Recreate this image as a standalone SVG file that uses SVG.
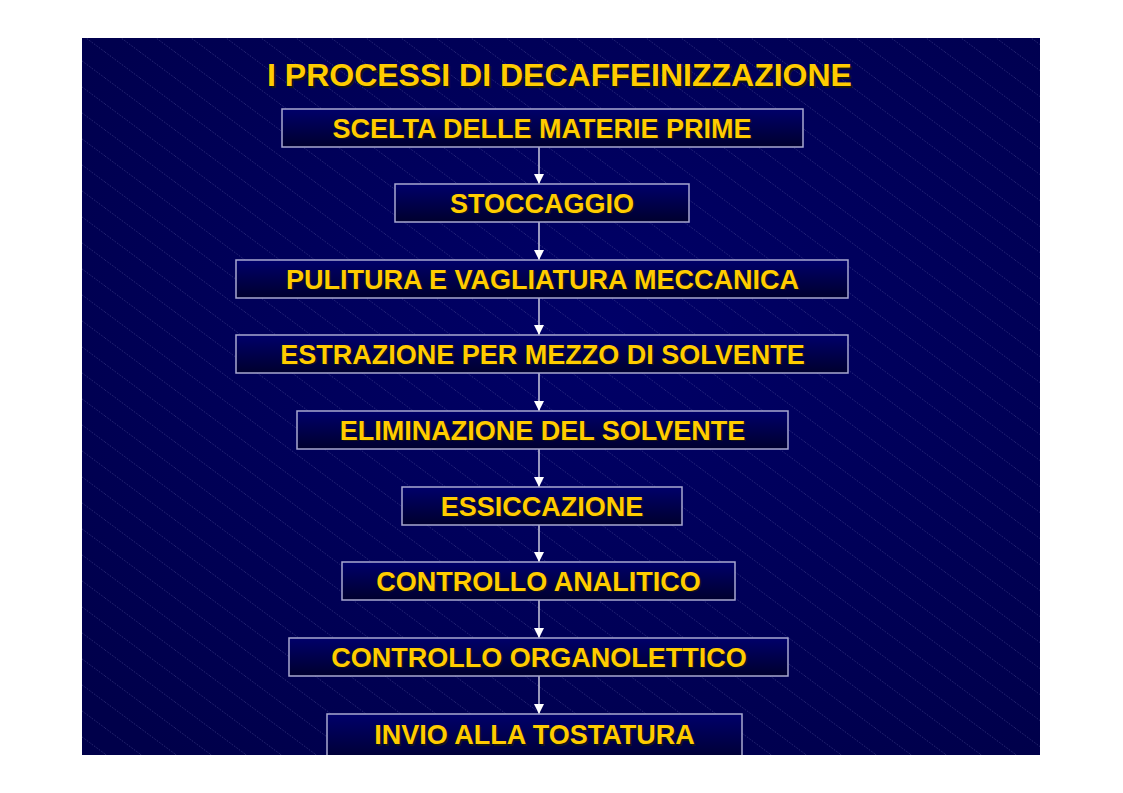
<svg xmlns="http://www.w3.org/2000/svg" width="1123" height="793" viewBox="0 0 1123 793">
<defs>
<radialGradient id="bg" cx="0.55" cy="0.4" r="0.75">
<stop offset="0" stop-color="#000068"/>
<stop offset="1" stop-color="#00004a"/>
</radialGradient>
<linearGradient id="box" x1="0" y1="0" x2="0" y2="1">
<stop offset="0" stop-color="#00006a"/>
<stop offset="1" stop-color="#00002e"/>
</linearGradient>
<pattern id="hatch" patternUnits="userSpaceOnUse" width="35" height="26">
<line x1="0" y1="0" x2="35" y2="26" stroke="#5a5aa0" stroke-width="0.7" stroke-dasharray="1.5 1.5" opacity="0.6"/>
<line x1="-35" y1="0" x2="0" y2="26" stroke="#5a5aa0" stroke-width="0.7" stroke-dasharray="1.5 1.5" opacity="0.6"/>
<line x1="35" y1="0" x2="70" y2="26" stroke="#5a5aa0" stroke-width="0.7" stroke-dasharray="1.5 1.5" opacity="0.6"/>
</pattern>
<marker id="arr" markerWidth="10" markerHeight="10" refX="10" refY="5" orient="auto" markerUnits="userSpaceOnUse">
<path d="M0,0 L10,5 L0,10 Z" fill="#ffffff"/>
</marker>
<clipPath id="slide"><rect x="82" y="38" width="958" height="717"/></clipPath>
</defs>
<style>
.box{fill:url(#box);stroke:#a8a8d0;stroke-width:1.5}
.lbl{font-family:"Liberation Sans",Arial,sans-serif;font-weight:bold;font-size:27px;fill:#ffcc00;text-anchor:middle}
.sh{font-family:"Liberation Sans",Arial,sans-serif;font-weight:bold;font-size:27px;fill:#151515;text-anchor:middle}
.conn line{stroke:#ffffff;stroke-width:1.2;marker-end:url(#arr)}
</style>
<rect x="0" y="0" width="1123" height="793" fill="#ffffff"/>
<g clip-path="url(#slide)">
<rect x="82" y="38" width="958" height="717" fill="url(#bg)"/>
<rect x="82" y="38" width="958" height="717" fill="url(#hatch)"/>
<g id="title">
<text x="561.5" y="87.5" style="font-family:'Liberation Sans',Arial,sans-serif;font-weight:bold;font-size:32px;fill:#151515;text-anchor:middle">I PROCESSI DI DECAFFEINIZZAZIONE</text>
<text x="559.5" y="86" style="font-family:'Liberation Sans',Arial,sans-serif;font-weight:bold;font-size:32px;fill:#ffcc00;text-anchor:middle">I PROCESSI DI DECAFFEINIZZAZIONE</text>
</g>
<g class="conn" id="connectors">
<line x1="539" y1="147" x2="539" y2="184"/>
<line x1="539" y1="222" x2="539" y2="260"/>
<line x1="539" y1="298" x2="539" y2="335"/>
<line x1="539" y1="373" x2="539" y2="411"/>
<line x1="539" y1="449" x2="539" y2="487"/>
<line x1="539" y1="525" x2="539" y2="562"/>
<line x1="539" y1="600" x2="539" y2="638"/>
<line x1="539" y1="676" x2="539" y2="714"/>
</g>
<g id="n1"><rect class="box" x="282" y="109" width="521" height="38"/><text class="sh" x="543.5" y="139">SCELTA DELLE MATERIE PRIME</text><text class="lbl" x="542" y="137.5">SCELTA DELLE MATERIE PRIME</text></g>
<g id="n2"><rect class="box" x="395" y="184" width="294" height="38"/><text class="sh" x="543.5" y="214">STOCCAGGIO</text><text class="lbl" x="542" y="212.5">STOCCAGGIO</text></g>
<g id="n3"><rect class="box" x="236" y="260" width="612" height="38"/><text class="sh" x="544" y="290">PULITURA E VAGLIATURA MECCANICA</text><text class="lbl" x="542.5" y="288.5">PULITURA E VAGLIATURA MECCANICA</text></g>
<g id="n4"><rect class="box" x="236" y="335" width="612" height="38"/><text class="sh" x="544" y="365">ESTRAZIONE PER MEZZO DI SOLVENTE</text><text class="lbl" x="542.5" y="363.5">ESTRAZIONE PER MEZZO DI SOLVENTE</text></g>
<g id="n5"><rect class="box" x="297" y="411" width="491" height="38"/><text class="sh" x="544" y="441">ELIMINAZIONE DEL SOLVENTE</text><text class="lbl" x="542.5" y="439.5">ELIMINAZIONE DEL SOLVENTE</text></g>
<g id="n6"><rect class="box" x="402" y="487" width="280" height="38"/><text class="sh" x="543.5" y="517">ESSICCAZIONE</text><text class="lbl" x="542" y="515.5">ESSICCAZIONE</text></g>
<g id="n7"><rect class="box" x="342" y="562" width="393" height="38"/><text class="sh" x="540" y="592">CONTROLLO ANALITICO</text><text class="lbl" x="538.5" y="590.5">CONTROLLO ANALITICO</text></g>
<g id="n8"><rect class="box" x="289" y="638" width="499" height="38"/><text class="sh" x="540.5" y="668">CONTROLLO ORGANOLETTICO</text><text class="lbl" x="539" y="666.5">CONTROLLO ORGANOLETTICO</text></g>
<g id="n9"><rect class="box" x="327" y="714" width="415" height="50"/><text class="sh" x="536" y="745.5">INVIO ALLA TOSTATURA</text><text class="lbl" x="534.5" y="744">INVIO ALLA TOSTATURA</text></g>
</g>
</svg>
